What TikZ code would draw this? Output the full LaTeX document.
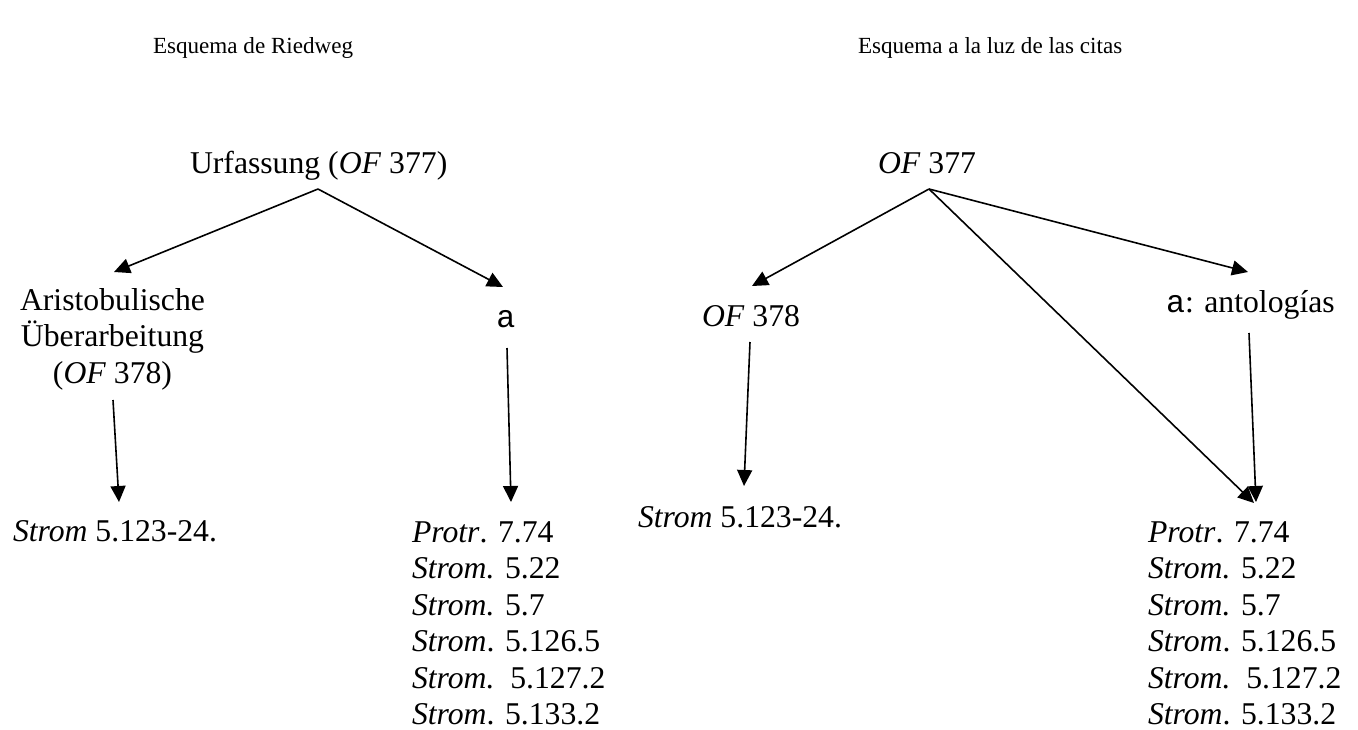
\documentclass[tikz,border=0pt]{standalone}
\usepackage{fontspec}
\setmainfont{Liberation Serif}
\newfontfamily\monofam{Liberation Mono}
\usetikzlibrary{arrows.meta}
\begin{document}
\begin{tikzpicture}[x=1pt,y=-1pt,
  txt/.style={inner sep=0pt,outer sep=0pt,font=\fontsize{31.7}{36.5}\selectfont},
  ttl/.style={inner sep=0pt,outer sep=0pt,font=\fontsize{23.1}{26}\selectfont},
  lst/.style={txt,align=left,anchor=base west},
  arr/.style={line width=1.6pt,-{Triangle[length=16pt,width=15pt]}}]
\useasboundingbox (0,0) rectangle (1358,729);
% titles
\node[ttl,anchor=base west] (t1) at (153,53) {Esquema de Riedweg};
\node[ttl,anchor=base west] (t2) at (858,53) {Esquema a la luz de las citas};
% left tree
\node[txt,anchor=base west] (u) at (190,173) {Urfassung (\textit{OF} 377)};
\node[txt,anchor=base,align=center] (ar) at (112.5,383) {Aristobulische\\Überarbeitung\\(\textit{OF} 378)};
\node[txt,anchor=base] (la) at (506,327) {\monofam a};
\node[txt,anchor=base west] (ls) at (13,541) {\textit{Strom} 5.123-24.};
\node[lst] (ll) at (412,724.5) {\textit{Protr}. 7.74\\\textit{Strom.} 5.22\\\textit{Strom.} 5.7\\\textit{Strom}. 5.126.5\\\textit{Strom.}\ \ 5.127.2\\\textit{Strom}. 5.133.2};
\coordinate (us) at (318,189);
\coordinate (art) at (114,272);
\coordinate (lat) at (503,287);
\coordinate (arb) at (113,400);
\coordinate (lst) at (119,502);
\coordinate (lab) at (507,348);
\coordinate (llt) at (511,502);
\draw[arr] (us) -- (art);
\draw[arr] (us) -- (lat);
\draw[arr] (arb) -- (lst);
\draw[arr] (lab) -- (llt);
% right tree
\node[txt,anchor=base west] (o7) at (878,173) {\textit{OF} 377};
\node[txt,anchor=base west] (o8) at (702,326) {\textit{OF} 378};
\node[txt,anchor=base west] (ra) at (1166,312) {{\monofam a}: antologías};
\node[txt,anchor=base west] (rs) at (638,527) {\textit{Strom} 5.123-24.};
\node[lst] (rl) at (1148,724.5) {\textit{Protr}. 7.74\\\textit{Strom.} 5.22\\\textit{Strom.} 5.7\\\textit{Strom}. 5.126.5\\\textit{Strom.}\ \ 5.127.2\\\textit{Strom}. 5.133.2};
\coordinate (o7s) at (929,189);
\coordinate (o8t) at (752,286);
\coordinate (rat) at (1248,272);
\coordinate (rlt) at (1254,503);
\coordinate (o8b) at (750,342);
\coordinate (rst) at (744,486);
\coordinate (rab) at (1249,333);
\coordinate (rlt2) at (1256,502);
\draw[arr] (o7s) -- (o8t);
\draw[arr] (o7s) -- (rat);
\draw[arr] (o7s) -- (rlt);
\draw[arr] (o8b) -- (rst);
\draw[arr] (rab) -- (rlt2);
\end{tikzpicture}
\end{document}
